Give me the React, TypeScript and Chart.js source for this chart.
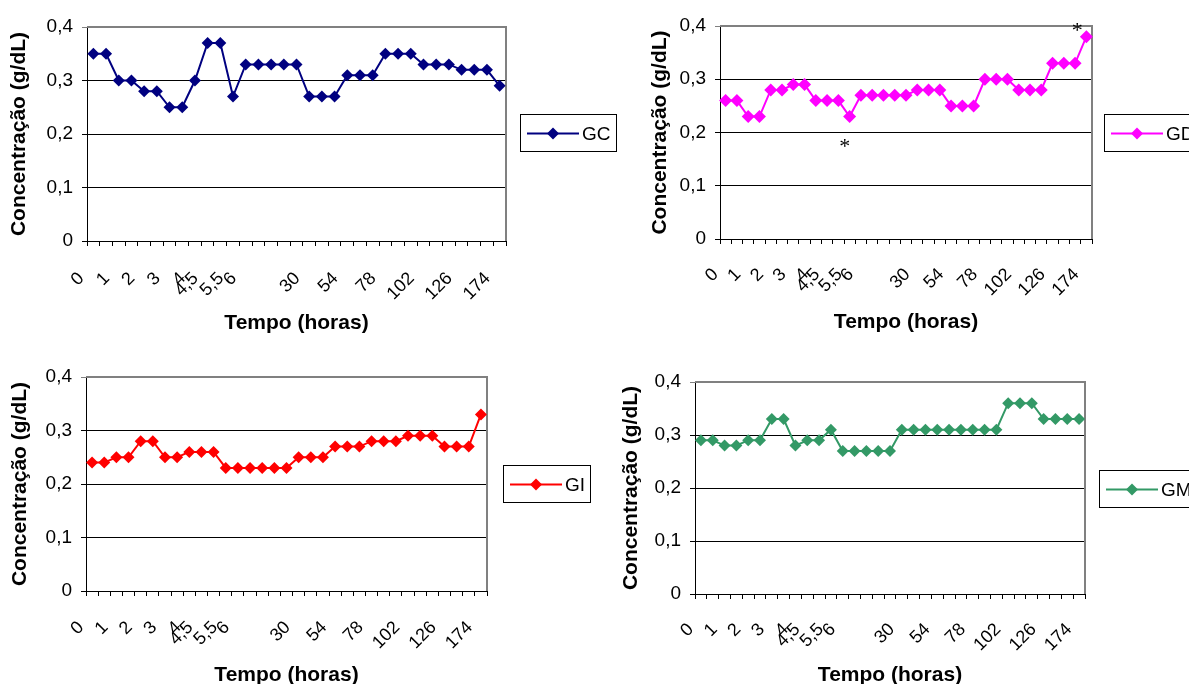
import React, { useEffect, useRef } from 'react';
import { Chart, registerables } from 'chart.js';

Chart.register(...registerables);

// ---------- data ----------
const timeLabels: string[] = [
  '0', '', '1', '', '2', '', '3', '', '4', '4,5', '', '5,5', '6', '', '', '', '',
  '30', '', '', '54', '', '', '78', '', '', '102', '', '', '126', '', '', '174',
];

const gcValues: number[] = [
  0.35, 0.35, 0.30, 0.30, 0.28, 0.28, 0.25, 0.25, 0.30, 0.37, 0.37, 0.27,
  0.33, 0.33, 0.33, 0.33, 0.33, 0.27, 0.27, 0.27, 0.31, 0.31, 0.31,
  0.35, 0.35, 0.35, 0.33, 0.33, 0.33, 0.32, 0.32, 0.32, 0.29,
];

const gdValues: number[] = [
  0.26, 0.26, 0.23, 0.23, 0.28, 0.28, 0.29, 0.29, 0.26, 0.26, 0.26, 0.23,
  0.27, 0.27, 0.27, 0.27, 0.27, 0.28, 0.28, 0.28, 0.25, 0.25, 0.25,
  0.30, 0.30, 0.30, 0.28, 0.28, 0.28, 0.33, 0.33, 0.33, 0.38,
];

const giValues: number[] = [
  0.24, 0.24, 0.25, 0.25, 0.28, 0.28, 0.25, 0.25, 0.26, 0.26, 0.26, 0.23,
  0.23, 0.23, 0.23, 0.23, 0.23, 0.25, 0.25, 0.25, 0.27, 0.27, 0.27,
  0.28, 0.28, 0.28, 0.29, 0.29, 0.29, 0.27, 0.27, 0.27, 0.33,
];

const gmValues: number[] = [
  0.29, 0.29, 0.28, 0.28, 0.29, 0.29, 0.33, 0.33, 0.28, 0.29, 0.29, 0.31,
  0.27, 0.27, 0.27, 0.27, 0.27, 0.31, 0.31, 0.31, 0.31, 0.31, 0.31,
  0.31, 0.31, 0.31, 0.36, 0.36, 0.36, 0.33, 0.33, 0.33, 0.33,
];

// indices of GD points flagged with an asterisk
const gdMarkedIndices: number[] = [11, 32];

const yMin = 0;
const yMax = 0.4;
const yStep = 0.1;

const yAxisTitle = 'Concentração (g/dL)';
const xAxisTitle = 'Tempo (horas)';

// ---------- styling ----------
const FONT = "'Liberation Sans', Arial, Helvetica, sans-serif";
const SERIF = "'Liberation Serif', 'Times New Roman', serif";

const fmt = (v: number) => (Math.abs(v) < 1e-9 ? '0' : Number(v).toFixed(1).replace('.', ','));

const framePlugin = {
  id: 'frame',
  beforeDatasetsDraw(chart: any) {
    const { ctx, chartArea } = chart;
    ctx.save();
    ctx.strokeStyle = '#808080';
    ctx.lineWidth = 2;
    ctx.beginPath();
    ctx.moveTo(chartArea.left, chartArea.top);
    ctx.lineTo(chartArea.right, chartArea.top);
    ctx.lineTo(chartArea.right, chartArea.bottom);
    ctx.stroke();
    ctx.restore();
  },
};

const boxLegendPlugin = {
  id: 'boxLegend',
  afterDraw(chart: any, _args: any, opts: any) {
    if (!opts || !opts.text) return;
    const { ctx } = chart;
    const { left, top, height, text, color, radius } = opts;
    ctx.save();
    ctx.font = `19px ${FONT}`;
    const tw = ctx.measureText(text).width;
    const width = 62 + tw + 5;
    ctx.strokeStyle = '#000';
    ctx.lineWidth = 1;
    ctx.strokeRect(Math.round(left) + 0.5, Math.round(top) + 0.5, Math.round(width), Math.round(height));
    const cy = Math.round(top + height / 2) + 0.5;
    ctx.strokeStyle = color;
    ctx.lineWidth = 2;
    ctx.beginPath();
    ctx.moveTo(left + 7, cy);
    ctx.lineTo(left + 59, cy);
    ctx.stroke();
    const cx = left + 33;
    ctx.fillStyle = color;
    ctx.beginPath();
    ctx.moveTo(cx - radius, cy);
    ctx.lineTo(cx, cy - radius);
    ctx.lineTo(cx + radius, cy);
    ctx.lineTo(cx, cy + radius);
    ctx.closePath();
    ctx.fill();
    ctx.fillStyle = '#000';
    ctx.textAlign = 'left';
    ctx.textBaseline = 'middle';
    ctx.fillText(text, left + 62, cy + 1);
    ctx.restore();
  },
};

const asteriskPlugin = {
  id: 'asterisks',
  afterDatasetsDraw(chart: any, _args: any, opts: any) {
    const idxs: number[] = (opts && opts.indices) || [];
    if (!idxs.length) return;
    const { ctx } = chart;
    const xs = chart.scales.x;
    const ys = chart.scales.y;
    const data = chart.data.datasets[0].data;
    ctx.save();
    ctx.font = `22px ${SERIF}`;
    ctx.fillStyle = '#000';
    ctx.textAlign = 'center';
    ctx.textBaseline = 'alphabetic';
    idxs.forEach((i: number, k: number) => {
      const off = opts.offsets[k];
      const x = xs.getPixelForValue(i);
      const y = ys.getPixelForValue(data[i]);
      ctx.fillText('*', x + off.dx, y + off.dy + 11);
    });
    ctx.restore();
  },
};

type Panel = {
  id: string;
  label: string;
  values: number[];
  color: string;
  left: number;
  top: number;
  width: number;
  height: number;
  padTop: number;
  padRight: number;
  yW: number;
  xH: number;
  yTitlePad: number;
  xTitlePad: number;
  legendLeft: number;
  legendTop: number;
  pointR: number;
  labelShift: number;
  labelPad: number;
  marks?: number[];
  markOffsets?: { dx: number; dy: number }[];
};

const panels: Panel[] = [
  {
    id: 'gc', label: 'GC', values: gcValues, color: '#000080',
    left: 0, top: 0, width: 630, height: 340,
    padTop: 27, padRight: 124, yW: 87, xH: 99, yTitlePad: 7, xTitlePad: 4,
    legendLeft: 520, legendTop: 114, pointR: 6, labelShift: -12, labelPad: 22,
  },
  {
    id: 'gd', label: 'GD', values: gdValues, color: '#FF00FF',
    left: 590, top: 0, width: 599, height: 340,
    padTop: 26, padRight: 97, yW: 130, xH: 101, yTitlePad: 58, xTitlePad: 5,
    legendLeft: 514, legendTop: 114, pointR: 6.5, labelShift: -10, labelPad: 20,
    marks: gdMarkedIndices,
    markOffsets: [{ dx: -5, dy: 25 }, { dx: -9, dy: -11 }],
  },
  {
    id: 'gi', label: 'GI', values: giValues, color: '#FF0000',
    left: 0, top: 340, width: 610, height: 360,
    padTop: 37, padRight: 123, yW: 86, xH: 109, yTitlePad: 8, xTitlePad: 12,
    legendLeft: 503, legendTop: 125, pointR: 6, labelShift: -11, labelPad: 21,
  },
  {
    id: 'gm', label: 'GM', values: gmValues, color: '#339966',
    left: 590, top: 340, width: 599, height: 360,
    padTop: 42, padRight: 104, yW: 105, xH: 106, yTitlePad: 29, xTitlePad: 12,
    legendLeft: 509, legendTop: 130, pointR: 6, labelShift: -10, labelPad: 20,
  },
];

function ChartPanel({ p }: { p: Panel }) {
  const ref = useRef<HTMLCanvasElement | null>(null);
  useEffect(() => {
    if (!ref.current) return;
    const chart = new Chart(ref.current, {
      type: 'line',
      data: {
        labels: timeLabels,
        datasets: [
          {
            label: p.label,
            data: p.values,
            borderColor: p.color,
            backgroundColor: p.color,
            borderWidth: 2,
            tension: 0,
            pointStyle: 'rectRot',
            pointRadius: p.pointR,
            pointBorderWidth: 0,
            pointBackgroundColor: p.color,
            pointBorderColor: p.color,
            clip: false as any,
          },
        ],
      },
      options: {
        responsive: false,
        animation: false,
        devicePixelRatio: 1,
        layout: { padding: { left: 0, top: p.padTop, right: p.padRight, bottom: 0 } },
        plugins: {
          legend: { display: false },
          tooltip: { enabled: false },
          boxLegend: {
            text: p.label, color: p.color, left: p.legendLeft, top: p.legendTop, height: 37, radius: 6,
          },
          asterisks: { indices: p.marks || [], offsets: p.markOffsets || [] },
        } as any,
        scales: {
          x: {
            type: 'category',
            offset: true,
            grid: {
              offset: true,
              drawOnChartArea: false,
              drawTicks: true,
              tickLength: 5,
              color: '#000',
            },
            border: { color: '#000', width: 1 },
            ticks: {
              autoSkip: false,
              maxRotation: 45,
              minRotation: 45,
              padding: p.labelPad,
              labelOffset: p.labelShift,
              color: '#000',
              font: { family: FONT, size: 18 },
            },
            title: {
              display: true,
              text: xAxisTitle,
              color: '#000',
              font: { family: FONT, size: 21, weight: 'bold' },
              padding: { top: 0, bottom: p.xTitlePad },
            },
            afterFit: (s: any) => { s.height = p.xH; },
          },
          y: {
            min: yMin,
            max: yMax,
            ticks: {
              stepSize: yStep,
              padding: 9,
              color: '#000',
              font: { family: FONT, size: 19 },
              callback: (v: any) => fmt(Number(v)),
            },
            grid: {
              color: (c: any) => (c.tick && c.tick.value > yMax - 0.01 ? '#808080' : '#000'),
              tickLength: 5,
              lineWidth: 1,
            },
            border: { color: '#000', width: 1 },
            title: {
              display: true,
              text: yAxisTitle,
              color: '#000',
              font: { family: FONT, size: 21, weight: 'bold' },
              padding: { top: p.yTitlePad, bottom: 0 },
            },
            afterFit: (s: any) => { s.width = p.yW; },
          },
        },
      } as any,
      plugins: [framePlugin, boxLegendPlugin, asteriskPlugin] as any,
    });
    return () => chart.destroy();
  }, [p]);

  return (
    <canvas
      ref={ref}
      width={p.width}
      height={p.height}
      style={{ position: 'absolute', left: p.left, top: p.top, width: p.width, height: p.height }}
    />
  );
}

export default function App() {
  return (
    <div
      style={{
        position: 'fixed', left: 0, top: 0, width: 1189, height: 684,
        overflow: 'hidden', background: '#fff',
      }}
    >
      {panels.map((p) => (
        <ChartPanel key={p.id} p={p} />
      ))}
    </div>
  );
}
